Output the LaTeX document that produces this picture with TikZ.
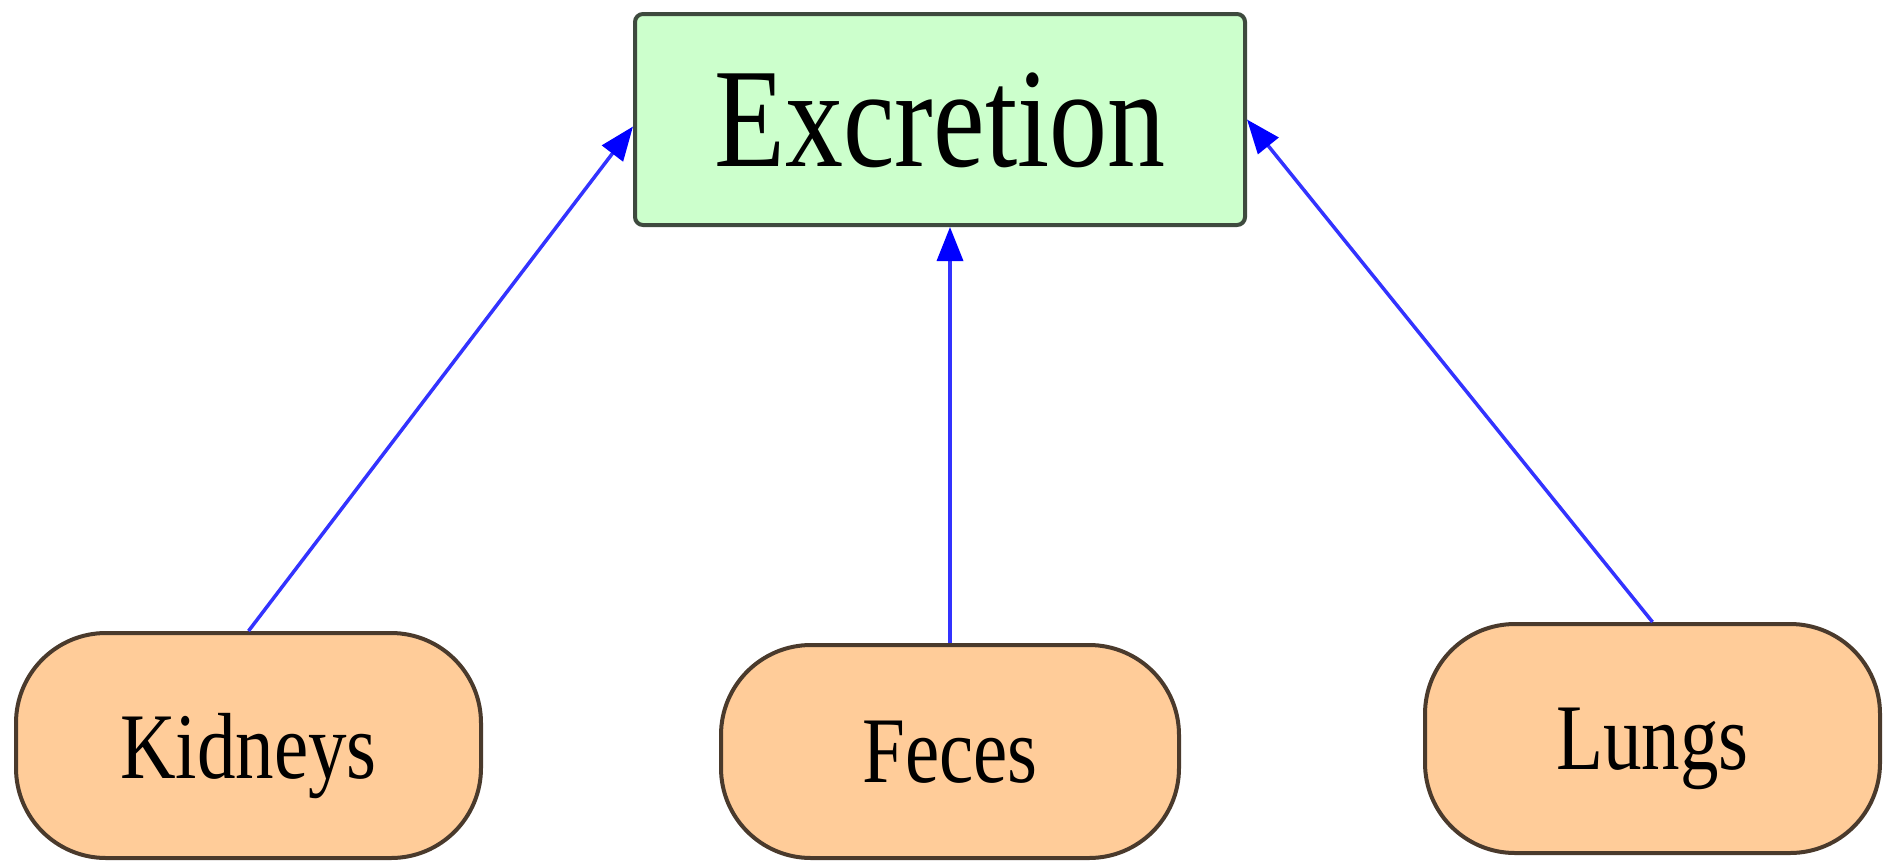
\documentclass[tikz,border=0pt]{standalone}
\usepackage{fontspec}
\setmainfont{Liberation Serif}
\usetikzlibrary{arrows.meta}
\definecolor{topfill}{HTML}{CCFFCC}
\definecolor{topline}{HTML}{3E4A3E}
\definecolor{leaffill}{HTML}{FFCC99}
\definecolor{leafline}{HTML}{4A3A2C}
\definecolor{linkblue}{HTML}{3333FF}
\tikzset{
  topbox/.style={draw=topline, fill=topfill, line width=4pt, rounded corners=8pt,
    inner sep=0pt, text depth=0pt, font=\fontsize{116}{116}\selectfont},
  leafbox/.style={draw=leafline, fill=leaffill, line width=4pt, rounded corners=90pt,
    inner sep=0pt, text depth=0pt, font=\fontsize{77}{77}\selectfont},
  link/.style={draw=linkblue, line width=3.5pt,
    -{Triangle[length=34pt,width=26pt,color=blue]}}
}
\newcommand{\tall}[1]{\scalebox{1}[1.22]{#1}}
\begin{document}
\begin{tikzpicture}[x=1pt,y=-1pt]
  \useasboundingbox (0,0) rectangle (1894,865);
  \node[topbox, minimum width=610pt, minimum height=211pt] (exc) at (940,119.5) {\tall{Excretion}};
  \node[leafbox, minimum width=465pt, minimum height=225pt] (kid) at (248.5,745.5) {\tall{Kidneys}};
  \node[leafbox, minimum width=458pt, minimum height=213pt] (fec) at (950,751.5) {\tall{Feces}};
  \node[leafbox, minimum width=455pt, minimum height=229pt] (lun) at (1652.5,738.5) {\tall{Lungs}};
  \draw[link] (kid.north) -- ([yshift=-7pt]exc.west);
  \draw[link] (fec.north) -- (fec.north |- exc.south);
  \draw[link] (lun.north) -- (exc.east);
\end{tikzpicture}
\end{document}
